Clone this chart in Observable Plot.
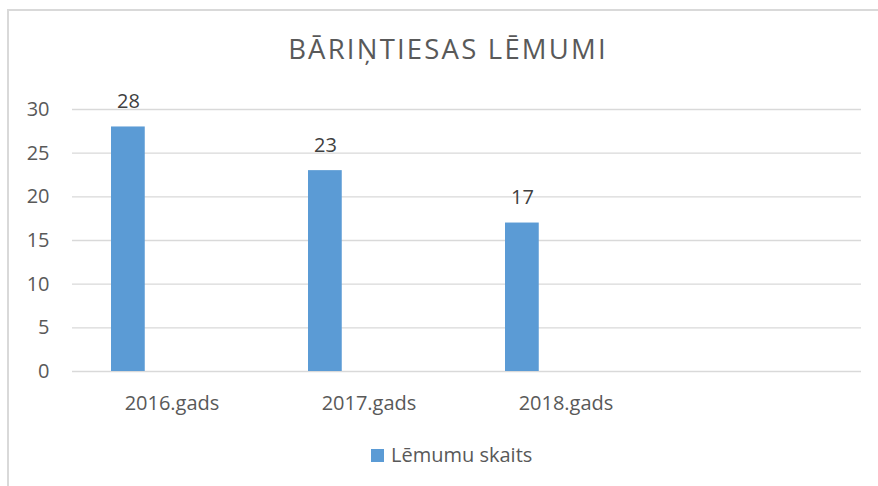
<!DOCTYPE html>
<html>
<head>
<meta charset="utf-8">
<script src="https://cdn.jsdelivr.net/npm/d3@7"></script>
<script src="https://cdn.jsdelivr.net/npm/@observablehq/plot@0.6"></script>
<style>
  html, body { margin: 0; padding: 0; background: #fff; }
  body { position: relative; width: 878px; height: 486px; overflow: hidden; font-family: "Open Sans", sans-serif; color: #595959; }
  #frame { position: absolute; left: 7px; top: 9px; width: 900px; height: 500px; border-left: 2px solid #d9d9d9; border-top: 2px solid #d9d9d9; box-sizing: border-box; }
  #title { position: absolute; left: 0; top: 35px; width: 896px; text-align: center; font-size: 27.5px; line-height: 27.5px; letter-spacing: 2.2px; color: #595959; }
  #chart { position: absolute; left: 0; top: 80px; }
  #legend { position: absolute; left: 371px; top: 445px; font-size: 20px; line-height: 20px; color: #595959; white-space: nowrap; }
  #legend .sw { display: inline-block; width: 13px; height: 13px; background: #5b9bd5; margin-right: 7px; vertical-align: 0px; }
</style>
</head>
<body>
<div id="frame"></div>
<div id="title">BĀRIŅTIESAS LĒMUMI</div>
<div id="chart"></div>
<div id="legend"><span class="sw"></span>Lēmumu skaits</div>
<script>
const categories = ["2016.gads", "2017.gads", "2018.gads", ""];
const seriesName = "Lēmumu skaits";
const values = [28, 23, 17];
const yTicks = [0, 5, 10, 15, 20, 25, 30];

const data = values.map((v, i) => ({ cat: categories[i], value: v }));

const chart = Plot.plot({
  width: 878,
  height: 350,
  marginLeft: 72,
  marginRight: 17,
  marginTop: 29,
  marginBottom: 59,
  style: { fontFamily: "'Open Sans', sans-serif", fontSize: "20px", color: "#595959", background: "transparent" },
  x: { domain: categories, paddingInner: 0, paddingOuter: 0, label: null },
  y: { domain: [0, 30], label: null },
  marks: [
    Plot.gridY(yTicks, { stroke: "#d9d9d9", strokeOpacity: 1, strokeWidth: 1.4 }),
    Plot.barY(data, { x: "cat", y: "value", fill: "#5b9bd5", insetLeft: 38, insetRight: 125.25 }),
    Plot.text(data, { x: "cat", y: "value", text: d => String(d.value), dx: -43.6, dy: -19, lineAnchor: "bottom", fill: "#404040", fontSize: 20 }),
    Plot.axisY({ ticks: yTicks, tickSize: 0, tickPadding: 23, fontSize: 20, fill: "#595959" }),
    Plot.axisX({ tickSize: 0, tickPadding: 24, fontSize: 20, fill: "#595959" })
  ]
});
document.getElementById("chart").appendChild(chart);
</script>
</body>
</html>
